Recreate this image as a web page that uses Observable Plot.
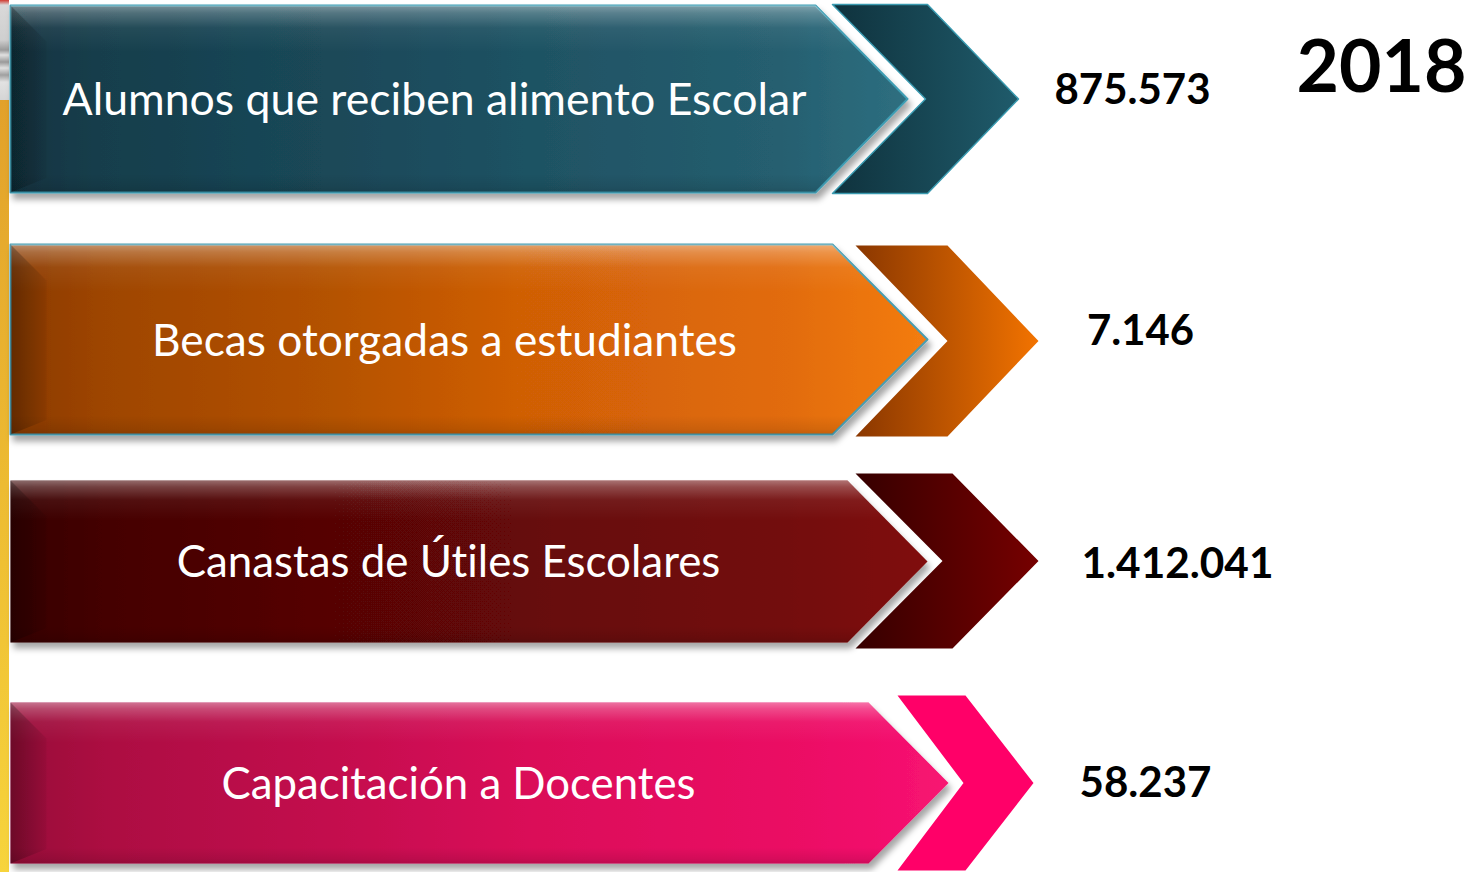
<!DOCTYPE html>
<html><head><meta charset="utf-8">
<script src="https://cdn.jsdelivr.net/npm/d3@7"></script>
<script src="https://cdn.jsdelivr.net/npm/@observablehq/plot@0.6"></script>
<style>body{margin:0;background:#fff;overflow:hidden} text{font-variant-ligatures:none;font-feature-settings:"liga" 0,"clig" 0}</style>
</head><body><div id="chart"></div>
<script>
// ---- data ----
const categories = ["Alumnos que reciben alimento Escolar", "Becas otorgadas a estudiantes", "Canastas de Útiles Escolares", "Capacitación a Docentes"];
const values = [875573, 7146, 1412041, 58237];
const year = "2018";

// ---- styles ----
const bodyStops = [
  ["#113340", "#163e4c", "#1a4858", "#1e5162", "#255e6f", "#2e6f80"],
  ["#8a3a06", "#9e4506", "#b45206", "#cf5e06", "#e26c08", "#f47c12"],
  ["#360404", "#440505", "#560606", "#650707", "#730808", "#800a0a"],
  ["#980838", "#ac0a42", "#c4084e", "#da0858", "#ec0a65", "#f81472"]
];
const bodyStroke = ["#3f9db3", "#4a9db0", "none", "none"];
const chevStops = [["#0f323d", "#1f5b6b"], ["#8a3700", "#f27300"], ["#360000", "#760000"], ["#ff0068", "#ff0068"]];
const chevStroke = ["#3a9ab0", "none", "none", "none"];

// ---- layout (pixels) ----
const W = 1473, H = 872;
const bodyLeft = 10, bevel = 36;
const rowTop = [5, 244, 480, 702];
const rowBottom = [192, 434, 642, 863];
const bodyCorner = [815, 832, 847, 868];
const bodyTip = [907, 927, 927, 948];
const chevTop = [4, 245, 473, 695];
const chevBottom = [193, 436, 648, 870];
const chevLeft = [832, 855, 855, 897];
const chevRight = [927, 947, 952, 965];
const chevTip = [1018, 1038, 1038, 1033];
const chevNotch = [925, 947, 942, 963];
const labelX = [434, 444, 448, 458];
const labelY = [100, 341, 562, 784];
const labelW = [744, 585, 544, 474];
const valueX = [1132, 1140, 1177, 1145];
const valueY = [90, 331, 564, 783];
const valueW = [156, 107, 192, 132];
const yearPos = {x: 1381, y: 68, w: 170};

const fmt = d3.formatLocale({decimal: ",", thousands: ".", grouping: [3], currency: ["", ""]}).format(",d");

function bodyPoly(i) {
  const t = rowTop[i], b = rowBottom[i], m = (t + b) / 2;
  return [[bodyLeft, t], [bodyCorner[i], t], [bodyTip[i], m], [bodyCorner[i], b], [bodyLeft, b]]
    .map(([x, y]) => ({x, y}));
}
function leftBevel(i) {
  const t = rowTop[i], b = rowBottom[i];
  return [[bodyLeft, t], [bodyLeft + bevel, t + bevel], [bodyLeft + bevel, b - bevel * 0.4], [bodyLeft, b]].map(([x, y]) => ({x, y}));
}
function chevPoly(i) {
  const t = chevTop[i], b = chevBottom[i], m = (t + b) / 2;
  return [[chevLeft[i], t], [chevRight[i], t], [chevTip[i], m], [chevRight[i], b], [chevLeft[i], b], [chevNotch[i], m]]
    .map(([x, y]) => ({x, y}));
}

const marks = [];
// left decorative strip
marks.push(Plot.rect([0], {x1: 0, x2: 9, y1: 0, y2: 100, fill: "url(#stripTop)"}));
marks.push(Plot.rect([0], {x1: 0, x2: 9, y1: 100, y2: H, fill: "url(#stripGold)"}));

categories.forEach((c, i) => {
  marks.push(Plot.line(bodyPoly(i), {x: "x", y: "y", curve: "linear-closed", fill: `url(#body${i})`,
    stroke: bodyStroke[i], strokeWidth: 2, ariaDescription: "body"}));
  marks.push(Plot.line(bodyPoly(i), {x: "x", y: "y", curve: "linear-closed", fill: "url(#gloss)", stroke: "none"}));
  marks.push(Plot.line(leftBevel(i), {x: "x", y: "y", curve: "linear-closed", fill: "url(#bevelL)", stroke: "none"}));
  marks.push(Plot.line(chevPoly(i), {x: "x", y: "y", curve: "linear-closed", fill: `url(#chev${i})`,
    stroke: chevStroke[i], strokeWidth: 1.5}));
});

const rows = categories.map((c, i) => ({c, v: values[i], i}));
marks.push(Plot.text(rows, {x: d => labelX[d.i], y: d => labelY[d.i], text: "c", fill: "white",
  fontSize: 40, fontFamily: "Lato", textAnchor: "middle", ariaDescription: "labels"}));
marks.push(Plot.text(rows, {x: d => valueX[d.i], y: d => valueY[d.i], text: d => fmt(d.v), fill: "black",
  fontSize: 44, fontWeight: "bold", fontFamily: "Lato", textAnchor: "middle", ariaDescription: "values"}));
marks.push(Plot.text([year], {x: yearPos.x, y: yearPos.y, text: d => d, fill: "black",
  fontSize: 80, fontWeight: "bold", fontFamily: "Lato", textAnchor: "middle", ariaDescription: "year"}));

const svg = Plot.plot({
  width: W, height: H, margin: 0,
  x: {domain: [0, W], range: [0, W], axis: null},
  y: {domain: [0, H], range: [0, H], axis: null},
  style: {background: "white", overflow: "visible"},
  marks
});
document.getElementById("chart").appendChild(svg);

// gradient / filter definitions
const defs = d3.select(svg).insert("defs", ":first-child");
function lin(id, stops, vertical) {
  const g = defs.append("linearGradient").attr("id", id)
    .attr("x1", 0).attr("y1", 0).attr("x2", vertical ? 0 : 1).attr("y2", vertical ? 1 : 0);
  stops.forEach(([o, c, a]) => g.append("stop").attr("offset", o).attr("stop-color", c).attr("stop-opacity", a == null ? 1 : a));
}
bodyStops.forEach((s, i) => lin(`body${i}`, [[0, s[0]], [0.1, s[1]], [0.35, s[2]], [0.55, s[3]], [0.85, s[4]], [1, s[5]]]));
chevStops.forEach((s, i) => lin(`chev${i}`, [[0, s[0]], [1, s[1]]]));
lin("gloss", [[0, "#fff", 0.42], [0.04, "#fff", 0.25], [0.12, "#fff", 0.06], [0.25, "#fff", 0], [0.9, "#000", 0], [0.97, "#000", 0.08], [1, "#000", 0.15]], true);
lin("bevelL", [[0, "#000", 0.28], [1, "#000", 0.05]]);
lin("stripTop", [[0, "#d23a30"], [0.05, "#d9d9d9"], [0.4, "#cfcfcf"], [0.5, "#9a9a9a"], [0.55, "#e0e0e0"], [0.62, "#9a9a9a"], [0.68, "#e0e0e0"], [0.75, "#a0a0a0"], [0.82, "#e2e2e2"], [1, "#d5d5d5"]], true);
lin("stripGold", [[0, "#e2a12a"], [0.5, "#edbb32"], [1, "#f7d43c"]], true);
const f = defs.append("filter").attr("id", "shadow").attr("x", "-5%").attr("y", "-10%").attr("width", "115%").attr("height", "130%");
f.append("feDropShadow").attr("dx", 3).attr("dy", 6).attr("stdDeviation", 3).attr("flood-color", "#000").attr("flood-opacity", 0.35);
d3.select(svg).selectAll('g[aria-description="body"]').attr("filter", "url(#shadow)");

// fit text widths to reference
function fit(label, targets) {
  d3.select(svg).selectAll(`g[aria-description="${label}"] text`).each(function (d, k) {
    const w = this.getComputedTextLength();
    const fs = parseFloat(getComputedStyle(this).fontSize);
    if (w > 0) this.style.fontSize = (fs * targets[k] / w) + "px";
  });
}
fit("labels", labelW);
fit("values", valueW);
fit("year", [yearPos.w]);
</script>
</body></html>
